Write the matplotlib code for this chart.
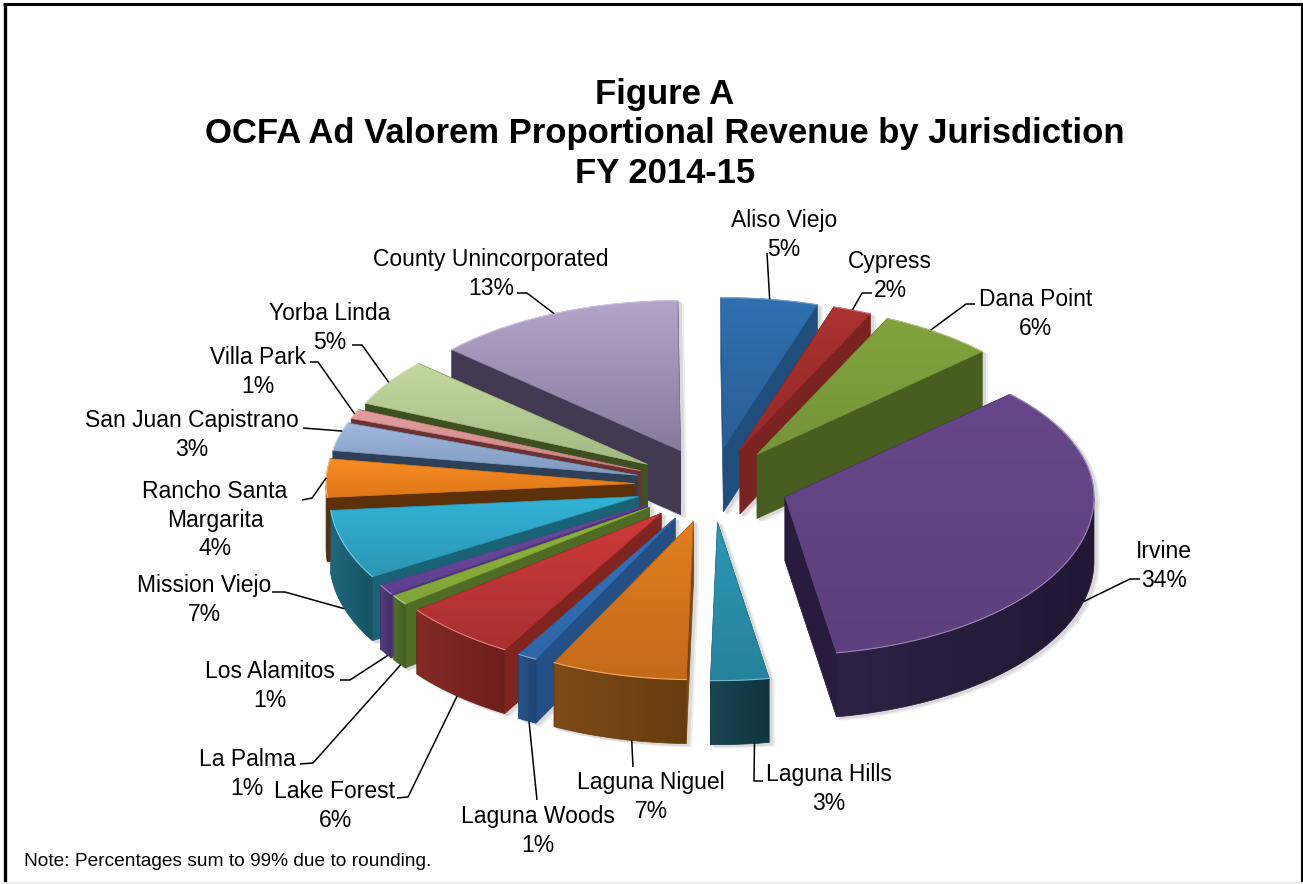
import numpy as np
import matplotlib
matplotlib.use("Agg")
import matplotlib.pyplot as plt
from matplotlib.colors import to_rgb, LinearSegmentedColormap
from matplotlib.patches import PathPatch, Polygon
from matplotlib.path import Path

plt.rcParams["font.family"] = ["Liberation Sans", "DejaVu Sans"]

# --- data ---
jurisdictions = [
    "Aliso Viejo", "Cypress", "Dana Point", "Irvine", "Laguna Hills",
    "Laguna Niguel", "Laguna Woods", "Lake Forest", "La Palma", "Los Alamitos",
    "Mission Viejo", "Rancho Santa\nMargarita", "San Juan Capistrano",
    "Villa Park", "Yorba Linda", "County Unincorporated",
]
shares = [5, 2, 6, 34, 3, 7, 1, 6, 1, 1, 7, 4, 3, 1, 5, 13]

title_lines = "Figure A\nOCFA Ad Valorem Proportional Revenue by Jurisdiction\nFY 2014-15"
note = "Note: Percentages sum to 99% due to rounding."

# --- colours: top face start, top face end, side ---
top_light = ["#3070B0", "#AB322E", "#82A23C", "#67478A", "#2C98B4", "#E27E22", "#3674BC", "#CF3A3A",
             "#8FB53E", "#6C4B9C", "#32B2D8", "#F78C22", "#A2B8DE", "#E3A09E", "#C4D89E", "#B4A4CA"]
top_dark = ["#2A5E96", "#94292A", "#76943A", "#5C3F7C", "#26829C", "#C46A18", "#2E66A8", "#A83030",
            "#82A438", "#5E4090", "#2C96B4", "#DE7818", "#7E9AC0", "#C88482", "#A4BA84", "#877A9C"]
side_colors = ["#1F4E7C", "#7A2320", "#475E20", "#281B3E", "#123F4C", "#7A4610", "#234F84", "#80241F",
               "#4E6C26", "#4F3678", "#1A6276", "#5C3008", "#2E4058", "#6C3232", "#3E5020", "#413A52"]

# --- pie geometry, in canvas pixels ---
CX, CY = 712, 485
RX = 309
RY_BACK, RY_FRONT = 150, 158
EXPLODE = 77
DEPTH = 64
FIRST_ANGLE = np.radians(-0.5)

# label centre, then elbow points of the leader going towards the slice
label_pos = [(784, 235), (890, 276), (1036, 314), (1164, 566), (829, 789), (651, 797), (538, 831),
             (335, 806), (247, 774), (270, 686), (204, 600), (215, 520), (192, 435), (258, 372),
             (330, 328), (491, 274)]
leader_pts = [
    [(767, 253)],
    [(872, 293), (862, 293)],
    [(975, 304), (966, 304)],
    [(1140, 579), (1130, 579)],
    [(763, 781), (754, 781)],
    [(633, 767)],
    [(537, 800)],
    [(397, 798), (408, 797)],
    [(300, 764), (313, 763)],
    [(340, 680), (350, 680)],
    [(272, 592), (285, 592)],
    [(302, 500), (312, 498)],
    [(303, 428)],
    [(310, 362), (318, 362)],
    [(352, 345), (362, 345)],
    [(517, 293), (527, 293)],
]
# where along its rim each leader touches the slice
leader_along = [0.5, 0.5, 0.42, 0.47, 0.25, 0.4, 0.4, 0.5, 0.4, 0.3, 0.5, 0.5, 0.7, 0.5, 0.5, 0.5]


def project(angle):
    # clockwise from 12 o'clock, slightly larger towards the viewer
    ry = RY_BACK if np.cos(angle) > 0 else RY_FRONT
    return RX * np.sin(angle), -ry * np.cos(angle)


def darker(color, f):
    return tuple(c * f for c in to_rgb(color))


def lighter(color, f):
    return tuple(c + (1 - c) * f for c in to_rgb(color))


def gradient_fill(ax, pts, c0, c1, zorder, horizontal=False):
    pts = np.asarray(pts)
    path = Path(np.vstack([pts, pts[0]]), closed=True)
    cmap = LinearSegmentedColormap.from_list("g", [c0, c1])
    grad = np.linspace(0, 1, 64)
    grad = grad.reshape(1, -1) if horizontal else grad.reshape(-1, 1)
    x0, y0 = pts.min(axis=0)
    x1, y1 = pts.max(axis=0)
    im = ax.imshow(grad, cmap=cmap, extent=(x0, x1, y1, y0), aspect="auto", zorder=zorder,
                   origin="upper", interpolation="bilinear")
    clip = PathPatch(path, transform=ax.transData, fc="none", ec="none")
    ax.add_patch(clip)
    im.set_clip_path(clip)
    # smooths the clipped border
    ax.add_patch(Polygon(pts, closed=True, fc="none", ec=c1, lw=0.5, zorder=zorder))


fig = plt.figure(figsize=(13.03, 8.84), dpi=100)
ax = fig.add_axes([0, 0, 1, 1])
ax.axis("off")

bounds = FIRST_ANGLE + np.cumsum([0] + shares) / sum(shares) * 2 * np.pi
slices = []
for i in range(len(shares)):
    a0, a1 = bounds[i], bounds[i + 1]
    mid = (a0 + a1) / 2
    apex = np.array([CX + EXPLODE * np.sin(mid), CY - EXPLODE * 0.49 * np.cos(mid)])
    arc_angles = np.linspace(a0, a1, max(8, int((a1 - a0) * 60)))
    arc = np.array([apex + project(a) for a in arc_angles])
    slices.append((i, a0, a1, apex, arc, arc_angles))

# back slices first so that the nearer ones paint over them
order = sorted(slices, key=lambda s: np.vstack([s[3], s[4]])[:, 1].mean())

drop = np.array([0, DEPTH])
for z, (i, a0, a1, apex, arc, arc_angles) in enumerate(order):
    base = 10 + z * 5
    top = np.vstack([apex, arc])
    facing = np.cos(arc_angles) < 0
    front_arc = arc[facing]
    face_a = np.array([apex, arc[0], arc[0] + drop, apex + drop])
    face_b = np.array([apex, arc[-1], arc[-1] + drop, apex + drop])
    polys = [top, face_a, face_b]
    if len(front_arc) > 1:
        polys.append(np.vstack([front_arc, (front_arc + drop)[::-1]]))

    # soft drop shadow on the page
    for off, shade, lay in (((5, 3), "#eeeeee", 1), ((3, 2), "#d9d9d9", 2)):
        for poly in polys:
            ax.add_patch(Polygon(poly + np.array(off), closed=True, fc=shade, ec=shade, lw=1, zorder=lay))

    side = side_colors[i]
    # radial faces: the one turned away goes down first
    start_visible = np.cos(a0 - np.pi / 2) < 0
    faces = [face_b, face_a] if start_visible else [face_a, face_b]
    for k, face in enumerate(faces):
        ax.add_patch(Polygon(face, closed=True, fc=side, ec=side, lw=0.5, zorder=base + k))
    if len(front_arc) > 1:
        gradient_fill(ax, polys[-1], lighter(side, 0.03), darker(side, 0.85), base + 2, horizontal=True)
    gradient_fill(ax, top, top_light[i], top_dark[i], base + 3)
    ax.plot(arc[:, 0], arc[:, 1], color=lighter(top_light[i], 0.35), lw=0.8, zorder=base + 4)

    # leader line from the rim of the slice to its label
    touch = a0 + leader_along[i] * (a1 - a0)
    rim = apex + project(touch)
    if np.cos(touch) < -0.2:
        rim = rim + drop
    pts = np.array(leader_pts[i] + [tuple(rim)])
    ax.plot(pts[:, 0], pts[:, 1], color="black", lw=1.1, zorder=200, solid_capstyle="butt")

for name, share, (lx, ly) in zip(jurisdictions, shares, label_pos):
    ax.text(lx, ly, f"{name}\n{share}%", ha="center", va="center", fontsize=16.5, linespacing=1.28,
            zorder=210, color="black")

ax.text(665, 134, title_lines, ha="center", va="center", fontsize=24.9, fontweight="bold",
        linespacing=1.26, zorder=210)
ax.text(24, 862, note, ha="left", va="center", fontsize=13.75, zorder=210)

# page frame: heavier on the top and left, hairline grey at the foot
ax.plot([4.5, 4.5], [3, 882], color="black", lw=2.4, zorder=220, solid_capstyle="butt")
ax.plot([3, 1303], [4, 4], color="black", lw=2.2, zorder=220, solid_capstyle="butt")
ax.plot([1302, 1302], [3, 882], color="black", lw=1.5, zorder=220, solid_capstyle="butt")
ax.plot([0, 1303], [883, 883], color="#ececec", lw=1.2, zorder=220)

ax.set_xlim(0, 1303)
ax.set_ylim(884, 0)
fig.savefig("out.png", dpi=100)
